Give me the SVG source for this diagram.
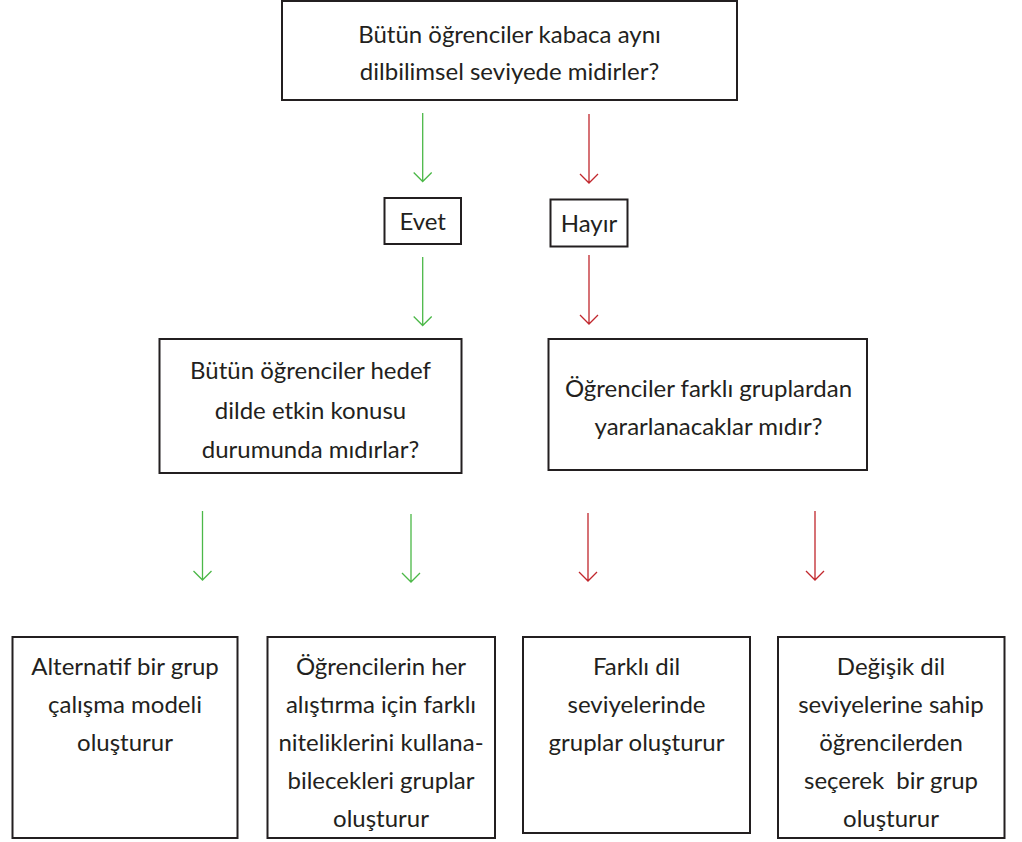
<svg xmlns="http://www.w3.org/2000/svg" width="1022" height="842" viewBox="0 0 1022 842">
<style>
.box{fill:#fff;stroke:#231f20;stroke-width:2}
.t{font-family:Lato,"Open Sans","Liberation Sans",sans-serif;font-size:24px;fill:#231f20;text-anchor:middle;white-space:pre}
.g{stroke:#4cb848;stroke-width:1.3;fill:none}
.r{stroke:#c1272d;stroke-width:1.3;fill:none}
</style>
<rect width="1022" height="842" fill="#fff"/>
<g id="connectors">
<path class="g" d="M422.7 113 V181.5 M413.7 172.5 L422.7 181.5 L431.7 172.5"/>
<path class="r" d="M589 114 V183 M580 174 L589 183 L598 174"/>
<path class="g" d="M422.7 257 V325.5 M413.7 316.5 L422.7 325.5 L431.7 316.5"/>
<path class="r" d="M589 255 V324 M580 315 L589 324 L598 315"/>
<path class="g" d="M202.5 511 V580 M193.5 571 L202.5 580 L211.5 571"/>
<path class="g" d="M411 514 V582 M402 573 L411 582 L420 573"/>
<path class="r" d="M588 513 V581 M579 572 L588 581 L597 572"/>
<path class="r" d="M815 511 V580 M806 571 L815 580 L824 571"/>
</g>
<g id="q1">
<rect class="box" x="282" y="1" width="455" height="99"/>
<text class="t" x="509.5" y="43">Bütün öğrenciler kabaca aynı</text>
<text class="t" x="509.5" y="80">dilbilimsel seviyede midirler?</text>
</g>
<g id="evet">
<rect class="box" x="384.5" y="198" width="76.5" height="46"/>
<text class="t" x="422.7" y="230">Evet</text>
</g>
<g id="hayir">
<rect class="box" x="550.5" y="199.5" width="77" height="47"/>
<text class="t" x="589" y="232">Hayır</text>
</g>
<g id="q2">
<rect class="box" x="159.5" y="339" width="302" height="134"/>
<text class="t" x="310.5" y="379">Bütün öğrenciler hedef</text>
<text class="t" x="310.5" y="418.5">dilde etkin konusu</text>
<text class="t" x="310.5" y="458">durumunda mıdırlar?</text>
</g>
<g id="q3">
<rect class="box" x="548.5" y="339" width="318.5" height="131"/>
<text class="t" x="708.5" y="397">Öğrenciler farklı gruplardan</text>
<text class="t" x="708.5" y="435">yararlanacaklar mıdır?</text>
</g>
<g id="r1">
<rect class="box" x="12.5" y="637" width="225" height="201"/>
<text class="t" x="125" y="675">Alternatif bir grup</text>
<text class="t" x="125" y="713">çalışma modeli</text>
<text class="t" x="125" y="751">oluşturur</text>
</g>
<g id="r2">
<rect class="box" x="267.5" y="637" width="227.5" height="201"/>
<text class="t" x="381" y="675">Öğrencilerin her</text>
<text class="t" x="381" y="713">alıştırma için farklı</text>
<text class="t" x="381" y="751">niteliklerini kullana-</text>
<text class="t" x="381" y="789">bilecekleri gruplar</text>
<text class="t" x="381" y="827">oluşturur</text>
</g>
<g id="r3">
<rect class="box" x="523" y="637" width="227" height="196"/>
<text class="t" x="636.5" y="675">Farklı dil</text>
<text class="t" x="636.5" y="713">seviyelerinde</text>
<text class="t" x="636.5" y="751">gruplar oluşturur</text>
</g>
<g id="r4">
<rect class="box" x="778" y="637" width="226.5" height="201"/>
<text class="t" x="891" y="675">Değişik dil</text>
<text class="t" x="891" y="713">seviyelerine sahip</text>
<text class="t" x="891" y="751">öğrencilerden</text>
<text class="t" x="891" y="789">seçerek  bir grup</text>
<text class="t" x="891" y="827">oluşturur</text>
</g>
</svg>
